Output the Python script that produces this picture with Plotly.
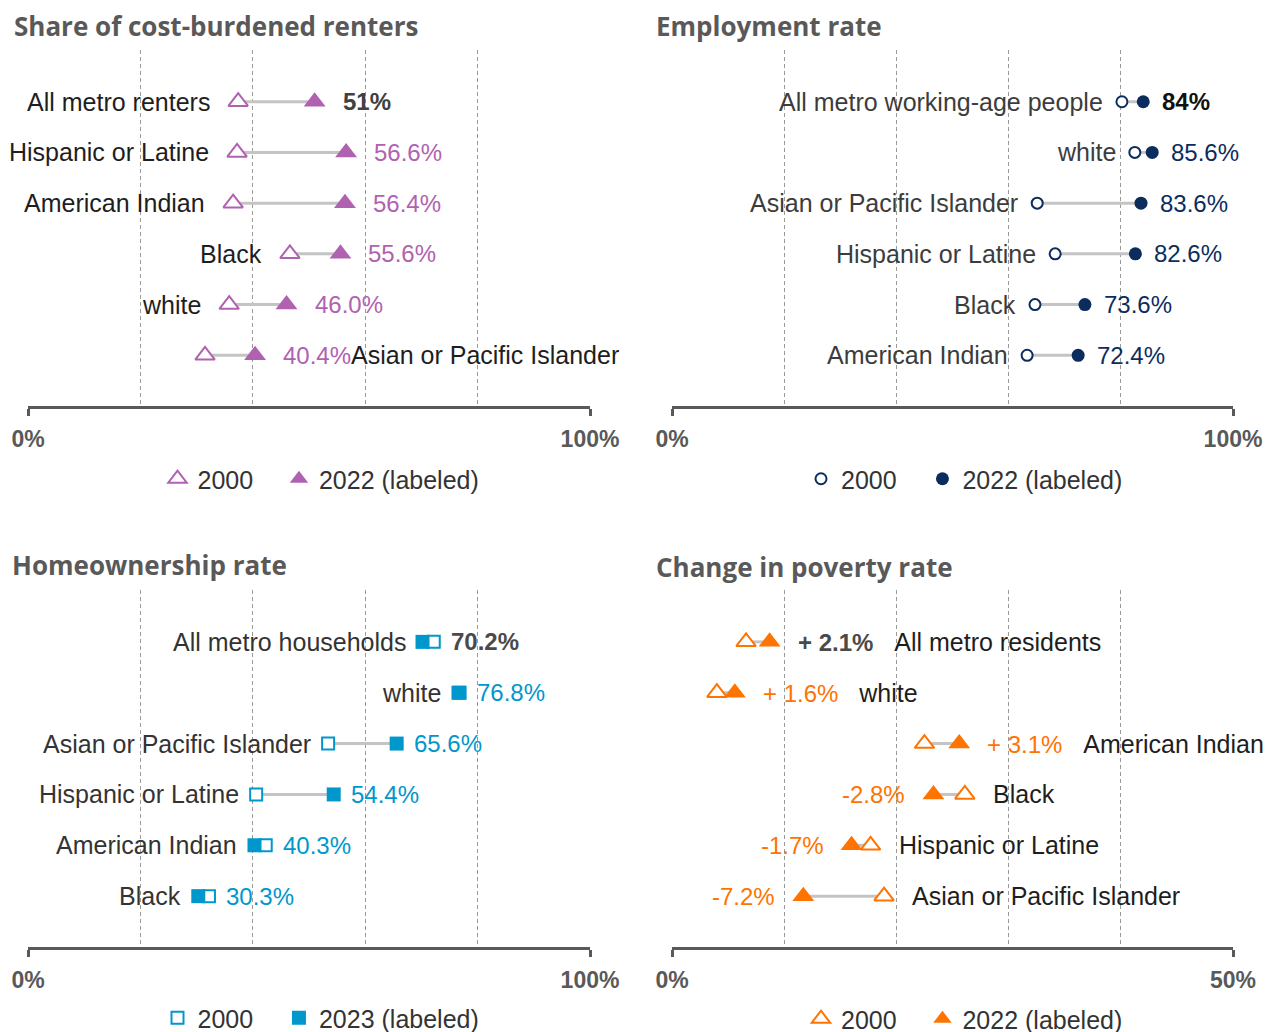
import plotly.graph_objects as go

# ---------------- data ----------------
cost_cats = ["All metro renters", "Hispanic or Latine", "American Indian", "Black", "white",
             "Asian or Pacific Islander"]
cost_2000 = [37.4, 37.2, 36.5, 46.6, 35.8, 31.5]
cost_2022 = [51.0, 56.6, 56.4, 55.6, 46.0, 40.4]
cost_labels = ["51%", "56.6%", "56.4%", "55.6%", "46.0%", "40.4%"]

emp_cats = ["All metro working-age people", "white", "Asian or Pacific Islander", "Hispanic or Latine",
            "Black", "American Indian"]
emp_2000 = [80.2, 82.5, 65.1, 68.3, 64.7, 63.3]
emp_2022 = [84.0, 85.6, 83.6, 82.6, 73.6, 72.4]
emp_labels = ["84%", "85.6%", "83.6%", "82.6%", "73.6%", "72.4%"]

home_cats = ["All metro households", "white", "Asian or Pacific Islander", "Hispanic or Latine",
             "American Indian", "Black"]
home_2000 = [72.2, 76.6, 53.4, 40.6, 42.3, 32.2]
home_2023 = [70.2, 76.8, 65.6, 54.4, 40.3, 30.3]
home_labels = ["70.2%", "76.8%", "65.6%", "54.4%", "40.3%", "30.3%"]

pov_cats = ["All metro residents", "white", "American Indian", "Black", "Hispanic or Latine",
            "Asian or Pacific Islander"]
pov_2000 = [6.6, 4.0, 22.5, 26.1, 17.7, 18.9]
pov_2022 = [8.7, 5.6, 25.6, 23.3, 16.0, 11.7]
pov_labels = ["+ 2.1%", "+ 1.6%", "+ 3.1%", "-2.8%", "-1.7%", "-7.2%"]

titles = ["Share of cost-burdened renters", "Employment rate", "Homeownership rate",
          "Change in poverty rate"]
axis_max = [100, 100, 100, 50]
axis_ticktext = [["0%", "100%"], ["0%", "100%"], ["0%", "100%"], ["0%", "50%"]]
legend_names = [("2000", "2022 (labeled)"), ("2000", "2022 (labeled)"),
                ("2000", "2023 (labeled)"), ("2000", "2022 (labeled)")]

# ---------------- style ----------------
OFF = 8                      # page body margin
W, H = 1271 - OFF, 1032 - OFF
FONT = "Liberation Sans, Arial, sans-serif"
TITLE_FONT = "Open Sans, DejaVu Sans, sans-serif"
CAT_COLOR = "#262626"
AXIS_COLOR = "#595959"
GRID_COLOR = "#9a9a9a"
CONN_COLOR = "#c4c4c4"


def px_x(px):
    return (px - OFF) / W


def px_y(py):
    return 1 - (py - OFF) / H


panels = [
    dict(cats=cost_cats, a=cost_2000, b=cost_2022, labels=cost_labels, color="#B062B0",
         symbol="triangle-up", size=19, gap=26, xdom=(28, 590), ydom=(50, 406),
         title_xy=(12, 26), legend_y=479, all_color="#404040", cat_color="#1e1e1e",
         right_label_rows=[5]),
    dict(cats=emp_cats, a=emp_2000, b=emp_2022, labels=emp_labels, color="#0B2D5E",
         symbol="circle", size=13, gap=17, xdom=(672, 1233), ydom=(50, 406),
         title_xy=(654, 26), legend_y=479, all_color="#111111", cat_color="#3c3c3c",
         right_label_rows=[]),
    dict(cats=home_cats, a=home_2000, b=home_2023, labels=home_labels, color="#0097CC",
         symbol="square", size=14, gap=15, xdom=(28, 590), ydom=(590, 947),
         title_xy=(10, 565), legend_y=1018, all_color="#4a4a4a", cat_color="#333333",
         right_label_rows=[]),
    dict(cats=pov_cats, a=pov_2000, b=pov_2022, labels=pov_labels, color="#FF7300",
         symbol="triangle-up", size=19, gap=26, xdom=(672, 1233), ydom=(590, 947),
         title_xy=(654, 567), legend_y=1019, all_color="#4a4a4a", cat_color="#1e1e1e",
         right_label_rows=None),
]

fig = go.Figure()
annotations = []
layout = {}

for i, p in enumerate(panels):
    n = i + 1
    xa = "x" if n == 1 else f"x{n}"
    ya = "y" if n == 1 else f"y{n}"
    lg = "legend" if n == 1 else f"legend{n}"
    rows = list(range(len(p["cats"])))

    # connectors
    cx, cy = [], []
    for r in rows:
        cx += [p["a"][r], p["b"][r], None]
        cy += [r, r, None]
    fig.add_trace(go.Scatter(x=cx, y=cy, mode="lines", xaxis=xa, yaxis=ya,
                             line=dict(color=CONN_COLOR, width=3), showlegend=False,
                             hoverinfo="skip"))
    # 2000 (hollow)
    fig.add_trace(go.Scatter(x=p["a"], y=rows, mode="markers", xaxis=xa, yaxis=ya,
                             name=legend_names[i][0] + "&nbsp;&nbsp;&nbsp;", legend=lg,
                             marker=dict(symbol=p["symbol"], size=p["size"] - 2, color="white",
                                         line=dict(color=p["color"], width=2))))
    # latest (filled)
    fig.add_trace(go.Scatter(x=p["b"], y=rows, mode="markers", xaxis=xa, yaxis=ya,
                             name=legend_names[i][1], legend=lg,
                             marker=dict(symbol=p["symbol"], size=p["size"], color=p["color"],
                                         line=dict(width=0))))

    x0, x1 = p["xdom"]
    y0, y1 = p["ydom"]
    mx = axis_max[i]
    layout[f"xaxis{n if n > 1 else ''}"] = dict(
        domain=[px_x(x0), px_x(x1)], range=[0, mx], anchor=ya, automargin=False,
        tickmode="array", tickvals=[0, mx], ticktext=[f"<b>{t}</b>" for t in axis_ticktext[i]],
        ticks="outside", ticklen=7, tickwidth=3, tickcolor=AXIS_COLOR,
        showline=True, linewidth=3, linecolor=AXIS_COLOR,
        showgrid=True, gridcolor=GRID_COLOR, gridwidth=1, griddash="4px,3px",
        minor=dict(tickmode="linear", tick0=0, dtick=mx / 5, showgrid=True, gridcolor=GRID_COLOR,
                   gridwidth=1, griddash="4px,3px", ticks=""),
        zeroline=False, ticklabelstandoff=3,
        tickfont=dict(family=FONT, size=23, color=AXIS_COLOR), fixedrange=True)
    layout[f"yaxis{n if n > 1 else ''}"] = dict(
        domain=[px_y(y1), px_y(y0)], range=[6.0, -1.02], visible=False, anchor=xa,
        automargin=False, fixedrange=True)
    layout[lg] = dict(orientation="h", x=px_x((x0 + x1) / 2 + 12), xanchor="center",
                      y=px_y(p["legend_y"]), yanchor="middle",
                      font=dict(family=FONT, size=25, color="#333333"),
                      bgcolor="rgba(0,0,0,0)", itemsizing="trace", tracegroupgap=0)

    # title
    tx, ty = p["title_xy"]
    annotations.append(dict(text=f"<b>{titles[i]}</b>", xref="paper", yref="paper",
                            x=px_x(tx), y=px_y(ty), xanchor="left", yanchor="middle",
                            showarrow=False,
                            font=dict(family=TITLE_FONT, size=26, color="#595959")))

    # labels
    for r in rows:
        lo = min(p["a"][r], p["b"][r])
        hi = max(p["a"][r], p["b"][r])
        lab = p["labels"][r]
        vcol = p["all_color"] if r == 0 else p["color"]
        vtxt = f"<b>{lab}</b>" if r == 0 else lab
        base = dict(xref=xa, yref=ya, y=r, yanchor="middle", showarrow=False,
                    font=dict(family=FONT, size=25, color=p["cat_color"]))
        vspan = f"<span style='color:{vcol};font-size:24px'>{vtxt}</span>"
        if p["right_label_rows"] is None:
            if p["b"][r] >= p["a"][r]:
                annotations.append(dict(base, x=hi, xanchor="left", xshift=p["gap"],
                                        text=f"{vspan}&nbsp;&nbsp;&nbsp;{p['cats'][r]}"))
            else:
                annotations.append(dict(base, x=lo, xanchor="right", xshift=-p["gap"],
                                        text=vspan))
                annotations.append(dict(base, x=hi, xanchor="left", xshift=p["gap"],
                                        text=p["cats"][r]))
        elif r in p["right_label_rows"]:
            annotations.append(dict(base, x=hi, xanchor="left", xshift=p["gap"],
                                    text=f"{vspan}{p['cats'][r]}"))
        else:
            annotations.append(dict(base, x=lo, xanchor="right", xshift=-p["gap"],
                                    text=p["cats"][r]))
            annotations.append(dict(base, x=hi, xanchor="left", xshift=p["gap"],
                                    text=vspan))

fig.update_layout(**layout)
fig.update_layout(template="none", width=W, height=H,
                  margin=dict(l=0, r=0, t=0, b=0, pad=0, autoexpand=False),
                  paper_bgcolor="white", plot_bgcolor="white",
                  annotations=annotations, hovermode=False,
                  font=dict(family=FONT, color=CAT_COLOR))

fig.write_html("out.html")
